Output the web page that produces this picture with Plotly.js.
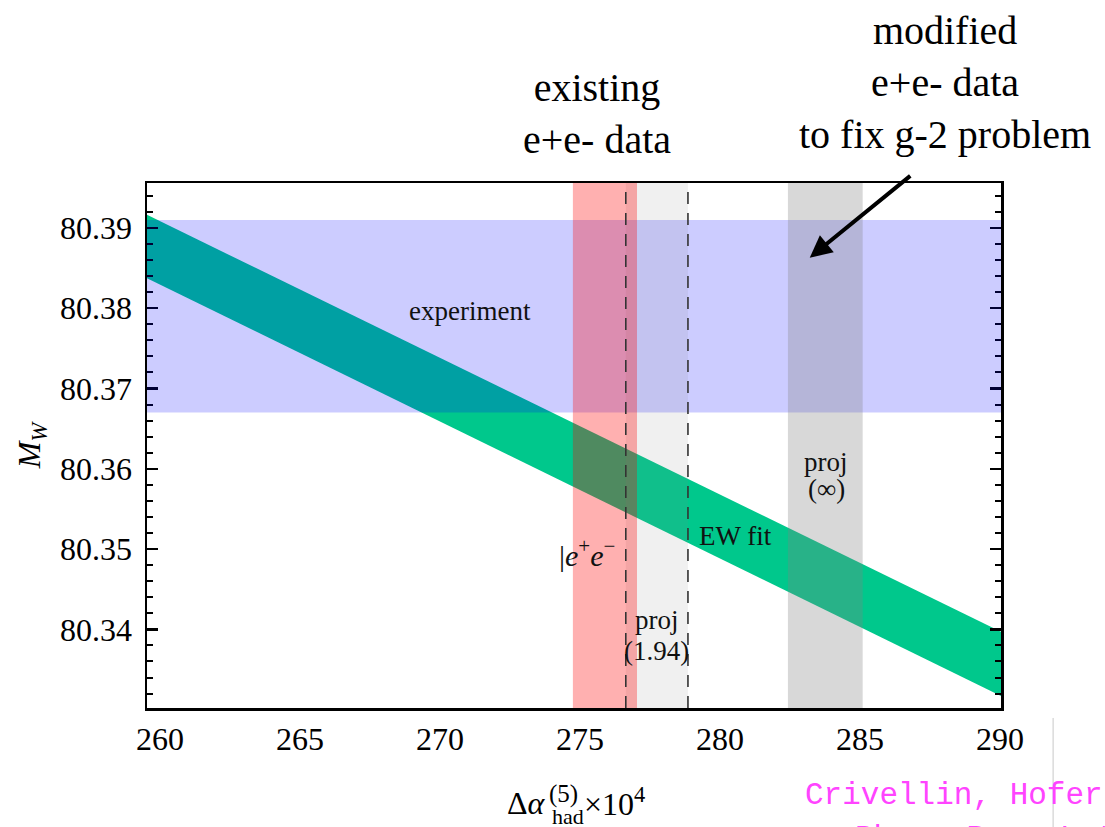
<!DOCTYPE html>
<html>
<head>
<meta charset="utf-8">
<script src="https://cdn.plot.ly/plotly-3.0.1.min.js"></script>
<style>html,body{margin:0;padding:0;background:#fff;}#chart{width:1105px;height:827px;}</style>
</head>
<body>
<div id="chart"></div>
<script>
// ---- data ----
const xTicks = [260, 265, 270, 275, 280, 285, 290];
const yTicks = [80.34, 80.35, 80.36, 80.37, 80.38, 80.39];
const yTickText = ["80.34", "80.35", "80.36", "80.37", "80.38", "80.39"];
// EW fit band (delta alpha_had x 1e4 vs M_W)
const ewX = [259.5, 290.1];
const ewUpper = [80.3917, 80.3396];
const ewLower = [80.3838, 80.3316];
// experimental M_W band
const expBand = [80.367, 80.391];
// existing e+e- data band
const eeBand = [274.75, 277.04];
// projection (1.94) band, edges drawn dashed
const proj194Band = [276.64, 278.86];
// projection (infinity) band
const projInfBand = [282.43, 285.10];

const serif = "Liberation Serif, Times New Roman, serif";
const mono = "Liberation Mono, Courier New, monospace";

const ewTrace = {
  x: [ewX[0], ewX[1], ewX[1], ewX[0], ewX[0]],
  y: [ewUpper[0], ewUpper[1], ewLower[1], ewLower[0], ewUpper[0]],
  mode: "lines",
  fill: "toself",
  fillcolor: "rgb(0,200,140)",
  line: {width: 0, color: "rgba(0,0,0,0)"},
  hoverinfo: "skip",
  showlegend: false
};

function vband(b, color) {
  return {type: "rect", xref: "x", yref: "paper", x0: b[0], x1: b[1], y0: 0, y1: 1,
          fillcolor: color, line: {width: 0}, layer: "above"};
}
function vdash(x) {
  return {type: "line", xref: "x", yref: "paper", x0: x, x1: x, y0: 0, y1: 1,
          line: {color: "#333", width: 1.6, dash: "12px,9px"}, layer: "above"};
}

const shapes = [
  {type: "rect", xref: "paper", yref: "y", x0: 0, x1: 1, y0: expBand[0], y1: expBand[1],
   fillcolor: "rgba(0,0,255,0.2)", line: {width: 0}, layer: "above"},
  vband(proj194Band, "rgba(128,128,128,0.12)"),
  vband(projInfBand, "rgba(128,128,128,0.31)"),
  vband(eeBand, "rgba(255,0,0,0.31)"),
  vdash(proj194Band[0]),
  vdash(proj194Band[1]),
  {type: "line", xref: "paper", yref: "paper", x0: 1.061, x1: 1.061, y0: -0.019, y1: -0.23,
   line: {color: "#c8c8c8", width: 1}}
];

// pixel -> paper helpers for annotations outside the plot area
const px = p => (p - 147) / 854;
const py = p => (708 - p) / 525;

const inFont = {family: serif, size: 27, color: "#111"};
function inText(x, y, text, extra) {
  return Object.assign({x: x, y: y, xref: "x", yref: "y", text: text, showarrow: false,
    xanchor: "center", yanchor: "middle", font: inFont}, extra || {});
}
function outText(x, y, text, font, xanchor) {
  return {x: px(x), y: py(y), xref: "paper", yref: "paper", text: text, showarrow: false,
    xanchor: xanchor || "center", yanchor: "middle", font: font};
}

const annotations = [
  inText(271.07, 80.3797, "experiment"),
  inText(280.55, 80.3516, "EW fit"),
  inText(274.2, 80.3495, "|<i>e</i><sup>+</sup><i>e</i><sup>−</sup>",
         {xanchor: "left", font: {family: serif, size: 30, color: "#111"}}),
  inText(277.77, 80.3412, "proj"),
  inText(277.75, 80.3373, "(1.94)"),
  inText(283.8, 80.3609, "proj"),
  inText(283.8, 80.3575, "(∞)"),
  // arrow
  {x: 283.21, y: 80.3863, xref: "x", yref: "y", text: "", showarrow: true,
   ax: 102, ay: -83, arrowhead: 2, arrowsize: 1.1, arrowwidth: 4, arrowcolor: "#000"},
  // slide annotations
  outText(597, 114, "existing<br>e+e- data", {family: serif, size: 40, color: "#000"}),
  outText(945, 82, "modified<br>e+e- data<br>to fix g-2 problem", {family: serif, size: 40, color: "#000"}),
  outText(803, 795, "Crivellin, Hofer", {family: mono, size: 31, color: "#ff44ff"}, "left"),
  outText(853, 838, "Phys. Rev. Lett.", {family: mono, size: 31, color: "#ff44ff"}, "left"),
  // x-axis title pieces
  outText(548, 803, "Δ<i>α</i>", {family: serif, size: 32, color: "#000"}, "right"),
  outText(547, 794, "(5)", {family: serif, size: 25, color: "#000"}, "left"),
  outText(550, 816, "had", {family: serif, size: 22, color: "#000"}, "left"),
  outText(582, 802, "×10<sup>4</sup>", {family: serif, size: 32, color: "#000"}, "left")
];

const layout = {
  width: 1105, height: 827,
  margin: {l: 147, r: 104, t: 183, b: 119, pad: 0},
  paper_bgcolor: "#fff", plot_bgcolor: "#fff",
  showlegend: false,
  xaxis: {
    range: [259.54, 290.04], tickvals: xTicks, ticktext: xTicks.map(String),
    ticks: "", showgrid: false, zeroline: false,
    showline: true, linecolor: "#000", linewidth: 2.5, mirror: true,
    tickfont: {family: serif, size: 32, color: "#000"}, ticklabelstandoff: 1
  },
  yaxis: {
    range: [80.3302, 80.3956], tickvals: yTicks, ticktext: yTickText,
    ticks: "inside", ticklen: 11, tickwidth: 2.5, tickcolor: "#000",
    minor: {ticks: "inside", ticklen: 6, tickwidth: 2, tickcolor: "#000", dtick: 0.002, tick0: 80.33},
    showgrid: false, zeroline: false,
    showline: true, linecolor: "#000", linewidth: 2.5, mirror: "ticks",
    tickfont: {family: serif, size: 32, color: "#000"}, ticklabelstandoff: 6,
    title: {text: "<i>M</i><sub><i>W</i></sub>", font: {family: serif, size: 32, color: "#000"}, standoff: 10}
  },
  shapes: shapes,
  annotations: annotations
};

Plotly.newPlot("chart", [ewTrace], layout, {staticPlot: true, displayModeBar: false});
</script>
</body>
</html>
